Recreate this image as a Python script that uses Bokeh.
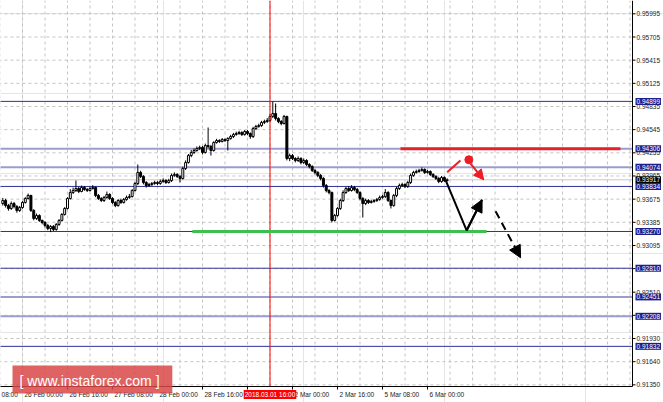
import numpy as np
from bokeh.plotting import figure
from bokeh.models import Range1d, Label, Arrow, NormalHead, ColumnDataSource
from bokeh.embed import file_html
from bokeh.resources import INLINE
from bokeh.core.properties import value

# ---------------- data ----------------
bar_index = list(range(-7, 152))  # hourly bars, 0 = 26 Feb 00:00

opens = [0.93620, 0.93658, 0.93595, 0.93558, 0.93620, 0.93583, 0.93533,
         0.93570, 0.93633, 0.93683, 0.93721, 0.93533, 0.93433, 0.93470, 0.93408, 0.93383, 0.93345,
         0.93307, 0.93332, 0.93295, 0.93358, 0.93408, 0.93483, 0.93558, 0.93683, 0.93758, 0.93783,
         0.93808, 0.93771, 0.93821, 0.93796, 0.93783, 0.93808, 0.93821, 0.93721, 0.93683, 0.93658,
         0.93696, 0.93733, 0.93683, 0.93633, 0.93595, 0.93658, 0.93633, 0.93671, 0.93696, 0.93708,
         0.93783, 0.93871, 0.94009, 0.93959, 0.93883, 0.93846, 0.93858, 0.93871, 0.93883, 0.93871,
         0.93896, 0.93908, 0.93883, 0.93908, 0.93972, 0.93984, 0.93959, 0.93934, 0.94059, 0.94134,
         0.94221, 0.94259, 0.94284, 0.94309, 0.94322, 0.94259, 0.94347, 0.94334, 0.94284, 0.94384,
         0.94409, 0.94397, 0.94422, 0.94409, 0.94434, 0.94459, 0.94484, 0.94497, 0.94509, 0.94484,
         0.94522, 0.94497, 0.94459, 0.94559, 0.94585, 0.94597, 0.94635, 0.94647, 0.94660, 0.94710,
         0.94747, 0.94685, 0.94647, 0.94622, 0.94710, 0.94184, 0.94221, 0.94184, 0.94159, 0.94184,
         0.94134, 0.94159, 0.94109, 0.94084, 0.94034, 0.94009, 0.93972, 0.93934, 0.93846, 0.93783,
         0.93758, 0.93408, 0.93470, 0.93558, 0.93658, 0.93758, 0.93808, 0.93783, 0.93821, 0.93796,
         0.93758, 0.93683, 0.93620, 0.93658, 0.93633, 0.93646, 0.93658, 0.93671, 0.93696, 0.93708,
         0.93758, 0.93658, 0.93595, 0.93721, 0.93808, 0.93846, 0.93858, 0.93833, 0.93883, 0.93972,
         0.94009, 0.94021, 0.94034, 0.94046, 0.94009, 0.94021, 0.93984, 0.93959, 0.93934, 0.93896,
         0.93946, 0.93908]

highs = [0.93690, 0.93680, 0.93615, 0.93645, 0.93640, 0.93600, 0.93590,
         0.93650, 0.93700, 0.93745, 0.93730, 0.93550, 0.93495, 0.93485, 0.93420, 0.93400, 0.93365,
         0.93350, 0.93350, 0.93375, 0.93425, 0.93500, 0.93575, 0.93700, 0.93800, 0.93820, 0.93908,
         0.93830, 0.93845, 0.93840, 0.93815, 0.93830, 0.93850, 0.93835, 0.93740, 0.93700, 0.93715,
         0.93770, 0.93750, 0.93700, 0.93650, 0.93675, 0.93680, 0.93690, 0.93720, 0.93740, 0.93800,
         0.93890, 0.94109, 0.94030, 0.93975, 0.93900, 0.93880, 0.93890, 0.93905, 0.93900, 0.93920,
         0.93935, 0.93925, 0.93930, 0.93995, 0.94010, 0.94000, 0.93975, 0.94080, 0.94160, 0.94240,
         0.94290, 0.94310, 0.94335, 0.94345, 0.94340, 0.94370, 0.94572, 0.94355, 0.94400, 0.94430,
         0.94425, 0.94440, 0.94435, 0.94450, 0.94480, 0.94505, 0.94520, 0.94530, 0.94525, 0.94540,
         0.94540, 0.94510, 0.94580, 0.94605, 0.94620, 0.94655, 0.94670, 0.94690, 0.94740, 0.94897,
         0.94872, 0.94700, 0.94665, 0.94730, 0.94720, 0.94245, 0.94240, 0.94200, 0.94210, 0.94200,
         0.94185, 0.94175, 0.94125, 0.94100, 0.94050, 0.94025, 0.93990, 0.93950, 0.93865, 0.93800,
         0.93770, 0.93490, 0.93575, 0.93680, 0.93785, 0.93830, 0.93840, 0.93850, 0.93840, 0.93815,
         0.93775, 0.93700, 0.93680, 0.93675, 0.93665, 0.93675, 0.93690, 0.93720, 0.93730, 0.93800,
         0.93775, 0.93670, 0.93740, 0.93830, 0.93870, 0.93880, 0.93875, 0.93905, 0.93995, 0.94030,
         0.94045, 0.94055, 0.94072, 0.94060, 0.94040, 0.94035, 0.94000, 0.93975, 0.93950, 0.93965,
         0.93960, 0.93935]

lows = [0.93595, 0.93570, 0.93530, 0.93540, 0.93560, 0.93505, 0.93515,
        0.93555, 0.93620, 0.93670, 0.93515, 0.93410, 0.93415, 0.93390, 0.93360, 0.93320, 0.93285,
        0.93262, 0.93275, 0.93280, 0.93340, 0.93395, 0.93470, 0.93545, 0.93670, 0.93740, 0.93765,
        0.93750, 0.93760, 0.93780, 0.93765, 0.93770, 0.93795, 0.93700, 0.93665, 0.93640, 0.93640,
        0.93680, 0.93665, 0.93615, 0.93575, 0.93580, 0.93615, 0.93620, 0.93655, 0.93680, 0.93695,
        0.93770, 0.93850, 0.93940, 0.93860, 0.93820, 0.93830, 0.93840, 0.93855, 0.93850, 0.93855,
        0.93880, 0.93865, 0.93870, 0.93890, 0.93955, 0.93940, 0.93883, 0.93920, 0.94040, 0.94120,
        0.94200, 0.94240, 0.94270, 0.94290, 0.94235, 0.94245, 0.94310, 0.94221, 0.94270, 0.94370,
        0.94380, 0.94385, 0.94390, 0.94284, 0.94420, 0.94440, 0.94470, 0.94480, 0.94465, 0.94470,
        0.94475, 0.94430, 0.94440, 0.94540, 0.94570, 0.94580, 0.94615, 0.94630, 0.94640, 0.94690,
        0.94660, 0.94625, 0.94600, 0.94610, 0.94160, 0.94150, 0.94165, 0.94135, 0.94140, 0.94110,
        0.94115, 0.94090, 0.94060, 0.94015, 0.93985, 0.93950, 0.93910, 0.93820, 0.93760, 0.93735,
        0.93383, 0.93395, 0.93455, 0.93540, 0.93640, 0.93740, 0.93765, 0.93770, 0.93775, 0.93740,
        0.93660, 0.93445, 0.93600, 0.93615, 0.93620, 0.93630, 0.93640, 0.93655, 0.93680, 0.93690,
        0.93640, 0.93558, 0.93580, 0.93700, 0.93790, 0.93830, 0.93815, 0.93815, 0.93865, 0.93955,
        0.93995, 0.94005, 0.94020, 0.93990, 0.93995, 0.93965, 0.93940, 0.93915, 0.93875, 0.93880,
        0.93890, 0.93895]

closes = [0.93658, 0.93595, 0.93558, 0.93620, 0.93583, 0.93533, 0.93570,
          0.93633, 0.93683, 0.93721, 0.93533, 0.93433, 0.93470, 0.93408, 0.93383, 0.93345, 0.93307,
          0.93332, 0.93295, 0.93358, 0.93408, 0.93483, 0.93558, 0.93683, 0.93758, 0.93783, 0.93808,
          0.93771, 0.93821, 0.93796, 0.93783, 0.93808, 0.93821, 0.93721, 0.93683, 0.93658, 0.93696,
          0.93733, 0.93683, 0.93633, 0.93595, 0.93658, 0.93633, 0.93671, 0.93696, 0.93708, 0.93783,
          0.93871, 0.94009, 0.93959, 0.93883, 0.93846, 0.93858, 0.93871, 0.93883, 0.93871, 0.93896,
          0.93908, 0.93883, 0.93908, 0.93972, 0.93984, 0.93959, 0.93934, 0.94059, 0.94134, 0.94221,
          0.94259, 0.94284, 0.94309, 0.94322, 0.94259, 0.94347, 0.94334, 0.94284, 0.94384, 0.94409,
          0.94397, 0.94422, 0.94409, 0.94434, 0.94459, 0.94484, 0.94497, 0.94509, 0.94484, 0.94522,
          0.94497, 0.94459, 0.94559, 0.94585, 0.94597, 0.94635, 0.94647, 0.94660, 0.94710, 0.94747,
          0.94685, 0.94647, 0.94622, 0.94710, 0.94184, 0.94221, 0.94184, 0.94159, 0.94184, 0.94134,
          0.94159, 0.94109, 0.94084, 0.94034, 0.94009, 0.93972, 0.93934, 0.93846, 0.93783, 0.93758,
          0.93408, 0.93470, 0.93558, 0.93658, 0.93758, 0.93808, 0.93783, 0.93821, 0.93796, 0.93758,
          0.93683, 0.93620, 0.93658, 0.93633, 0.93646, 0.93658, 0.93671, 0.93696, 0.93708, 0.93758,
          0.93658, 0.93595, 0.93721, 0.93808, 0.93846, 0.93858, 0.93833, 0.93883, 0.93972, 0.94009,
          0.94021, 0.94034, 0.94046, 0.94009, 0.94021, 0.93984, 0.93959, 0.93934, 0.93896, 0.93946,
          0.93908, 0.93917]

price_ticks = [0.95995, 0.95705, 0.95415, 0.95125, 0.94835, 0.94545, 0.94255, 0.93965,
               0.93675, 0.93385, 0.93095, 0.92805, 0.92510, 0.92220, 0.91930, 0.91640, 0.91350]
price_tick_labels = ["0.95995", "0.95705", "0.95415", "0.95125", "0.94835", "0.94545",
                     "0.94255", "0.93965", "0.93675", "0.93385", "0.93095", "0.92805",
                     "0.92510", "0.92220", "0.91930", "0.91640", "0.91350"]

time_tick_index = [-16, 0, 16, 32, 48, 64, 80, 96, 112, 128, 144]
time_tick_labels = ["23 Feb 08:00", "26 Feb 00:00", "26 Feb 16:00", "27 Feb 08:00",
                    "28 Feb 00:00", "28 Feb 16:00", "1 Mar 08:00", "2 Mar 00:00",
                    "2 Mar 16:00", "5 Mar 08:00", "6 Mar 00:00"]
grid_index = list(range(-8, 217, 8))

levels_dark = [0.94899, 0.93834, 0.93270, 0.92810, 0.91832]
levels_light = [0.94306, 0.94074, 0.92451, 0.92208]
current_price = 0.93917

marker_index = 88
marker_text = "2018.03.01 16:00"

resistance_price = 0.94306
resistance_from_to = [134.4, 212.6]
support_price = 0.93270
support_from_to = [60.4, 165.0]

forecast_main_x = [150.4, 157.9, 163.4]
forecast_main_y = [0.93917, 0.93283, 0.93667]
forecast_next_x = [168.2, 177.1]
forecast_next_y = [0.93524, 0.92941]
alt_line_x = [151.0, 155.7]
alt_line_y = [0.94012, 0.94159]
alt_dot_x = [158.7]
alt_dot_y = [0.94168]
alt_arrow_x = [159.3, 164.0]
alt_arrow_y = [0.94121, 0.93917]

watermark = "[  www.instaforex.com  ]"

# window spans and where the price / time scales sit
X_START, X_END = -7.82, 227.91          # visible bar-index span of the whole window
Y_TOP, Y_BOTTOM = 0.96162, 0.91129      # visible price span of the whole window
CHART_RIGHT = 216.89                    # bar index where the price scale sits
CHART_FLOOR = 0.91329                   # price where the time scale sits

# ---------------- figure ----------------
FONT = "Liberation Sans"
AX = "#222222"
p = figure(frame_width=663, frame_height=402, output_backend="svg", toolbar_location=None,
           x_range=Range1d(X_START, X_END), y_range=Range1d(Y_BOTTOM, Y_TOP),
           x_axis_location=None, y_axis_location=None,
           min_border_left=0, min_border_top=0, min_border_right=0, min_border_bottom=0)
p.background_fill_color = "white"
p.border_fill_color = "white"
p.outline_line_color = None

LEFT = X_START - 5

# grid
p.segment(x0=grid_index, y0=[CHART_FLOOR] * len(grid_index), x1=grid_index,
          y1=[Y_TOP] * len(grid_index), line_color="#c4c4c4", line_dash="3 3", line_width=1)
p.segment(x0=[LEFT] * len(price_ticks), y0=price_ticks, x1=[CHART_RIGHT] * len(price_ticks),
          y1=price_ticks, line_color="#c4c4c4", line_dash="3 3", line_width=1)

# horizontal level lines
nl = len(levels_light)
p.segment(x0=[LEFT] * nl, y0=levels_light, x1=[CHART_RIGHT] * nl, y1=levels_light,
          line_color="#9c9cd0", line_width=2)
nd = len(levels_dark)
p.segment(x0=[LEFT] * nd, y0=levels_dark, x1=[CHART_RIGHT] * nd, y1=levels_dark,
          line_color="#30309a", line_width=1)
p.segment(x0=[LEFT], y0=[current_price], x1=[CHART_RIGHT], y1=[current_price],
          line_color="#c8c8c8", line_width=1)

# candles
o = np.array(opens); h = np.array(highs); l = np.array(lows); c = np.array(closes)
src = ColumnDataSource(dict(x=bar_index, high=h, low=l, top=np.maximum(o, c), bottom=np.minimum(o, c),
                            fill=np.where(c >= o, "white", "black")))
p.segment(x0="x", y0="low", x1="x", y1="high", source=src, line_color="black", line_width=1)
p.vbar(x="x", width=0.7, top="top", bottom="bottom", source=src, fill_color="fill",
       line_color="black", line_width=1)

# marker vertical line
p.segment(x0=[marker_index], y0=[CHART_FLOOR], x1=[marker_index], y1=[Y_TOP],
          line_color="#ff0000", line_width=1)

# drawn objects
p.line(resistance_from_to, [resistance_price] * 2, line_color="#e8202a", line_width=3)
p.line(support_from_to, [support_price] * 2, line_color="#3fbf4f", line_width=3)

p.line(forecast_main_x, forecast_main_y, line_color="black", line_width=2)
p.add_layout(Arrow(end=NormalHead(size=12, fill_color="black", line_color="black"),
                   x_start=forecast_main_x[1], y_start=forecast_main_y[1],
                   x_end=forecast_main_x[2], y_end=forecast_main_y[2],
                   line_color="black", line_width=2))
p.add_layout(Arrow(end=NormalHead(size=12, fill_color="black", line_color="black"),
                   x_start=forecast_next_x[0], y_start=forecast_next_y[0],
                   x_end=forecast_next_x[1], y_end=forecast_next_y[1],
                   line_color="black", line_width=2, line_dash="8 5"))

p.line(alt_line_x, alt_line_y, line_color="#ee1c24", line_width=2)
p.scatter(alt_dot_x, alt_dot_y, size=8, color="#ee1c24")
p.add_layout(Arrow(end=NormalHead(size=10, fill_color="#ee1c24", line_color="#ee1c24"),
                   x_start=alt_arrow_x[0], y_start=alt_arrow_y[0],
                   x_end=alt_arrow_x[1], y_end=alt_arrow_y[1],
                   line_color="#ee1c24", line_width=2))

# price scale (right) and time scale (bottom)
p.segment(x0=[CHART_RIGHT], y0=[CHART_FLOOR], x1=[CHART_RIGHT], y1=[Y_TOP], line_color="black", line_width=1)
p.segment(x0=[LEFT], y0=[CHART_FLOOR], x1=[CHART_RIGHT], y1=[CHART_FLOOR], line_color="black", line_width=1)
n = len(price_ticks)
p.ray(x=[CHART_RIGHT] * n, y=price_ticks, length=3, length_units="screen", angle=0,
      line_color="black", line_width=1)
p.text(x=[CHART_RIGHT] * n, y=price_ticks, text=price_tick_labels, x_offset=4,
       text_baseline="middle", text_align="left", text_font=value(FONT),
       text_font_size="6.5px", text_color=AX)
m = len(time_tick_index)
p.ray(x=time_tick_index, y=[CHART_FLOOR] * m, length=3, length_units="screen", angle=-np.pi / 2,
      line_color="black", line_width=1)
p.text(x=time_tick_index, y=[CHART_FLOOR] * m, text=time_tick_labels, x_offset=2, y_offset=8,
       text_baseline="middle", text_align="left", text_font=value(FONT),
       text_font_size="6.5px", text_color=AX)

# boxed price labels on the price scale
p.add_layout(Label(x=CHART_RIGHT, y=current_price, x_offset=3,
                   text=f"{current_price:.5f}", text_font=FONT, text_font_size="6.5px",
                   text_color="white", background_fill_color="black", text_align="left",
                   text_baseline="middle", padding=1))
for lv in levels_light + levels_dark:
    p.add_layout(Label(x=CHART_RIGHT, y=lv, x_offset=3,
                       text=f"{lv:.5f}", text_font=FONT, text_font_size="6.5px",
                       text_color="white", background_fill_color="#1e1e8c", text_align="left",
                       text_baseline="middle", padding=1))

# marker label on the time scale
p.add_layout(Label(x=marker_index, y=CHART_FLOOR, y_offset=-8, text=marker_text,
                   text_font=FONT, text_font_size="6.5px", text_color="white",
                   background_fill_color="#ff0000", text_align="center", text_baseline="middle",
                   padding=1))

# watermark
p.add_layout(Label(x=12, y=9, x_units="screen", y_units="screen", text=watermark,
                   text_font=FONT, text_font_size="14px", text_color="white",
                   background_fill_color="#d94848", background_fill_alpha=0.85,
                   text_align="left", text_baseline="bottom", padding=(7, 5, 7, 5)))

open("out.html", "w").write(file_html(p, INLINE))
